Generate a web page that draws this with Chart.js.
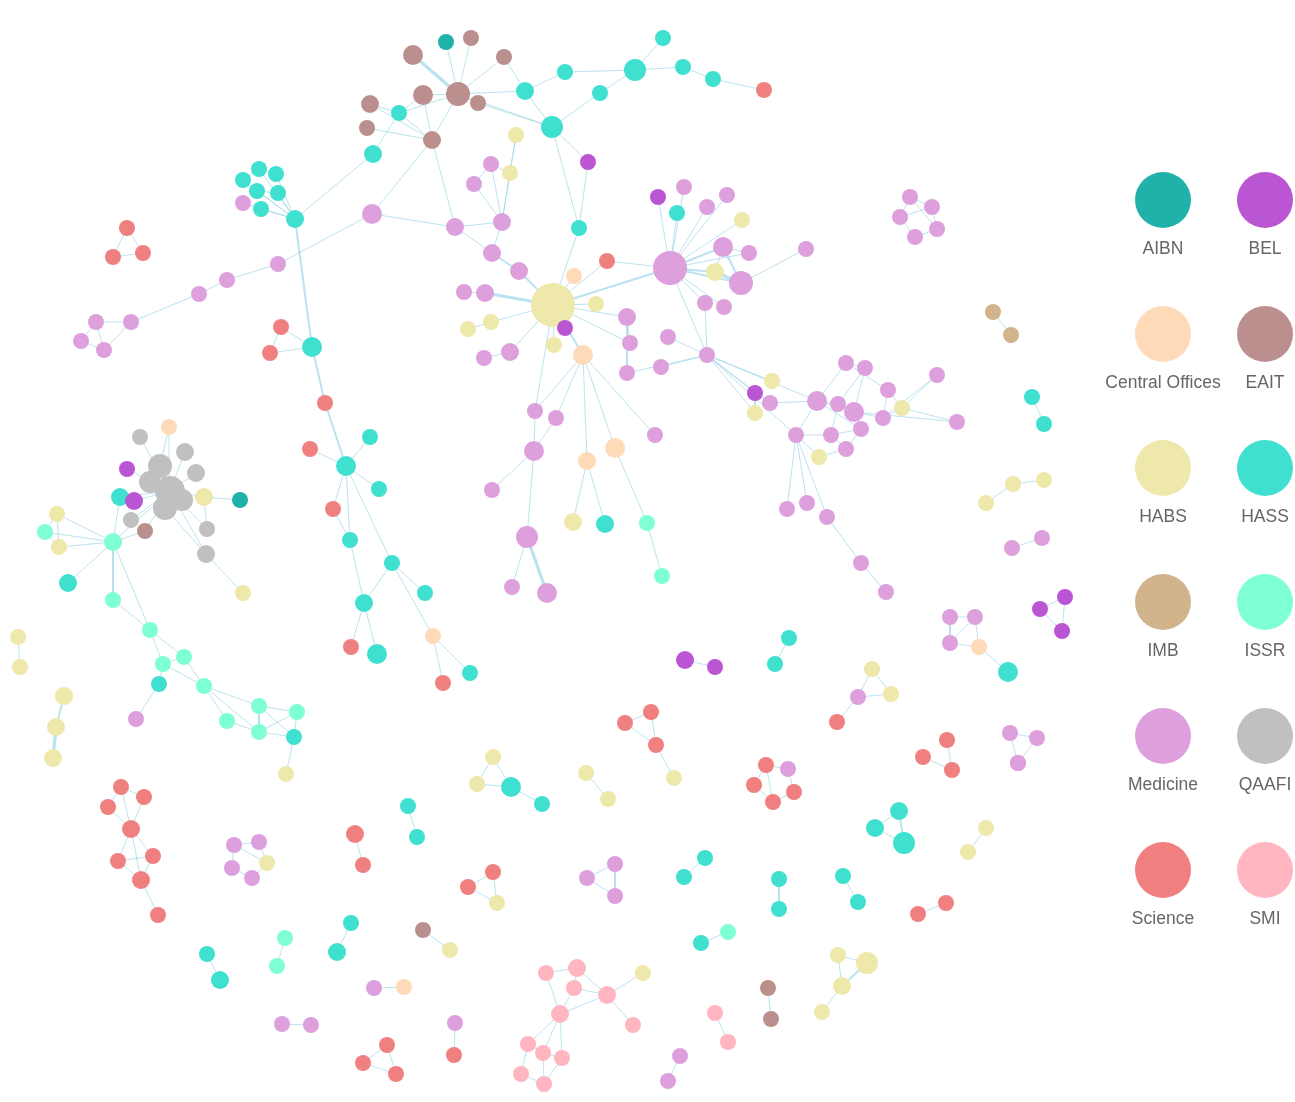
<!DOCTYPE html>
<html>
<head>
<meta charset="utf-8">
<title>Collaboration network</title>
<script src="https://cdn.jsdelivr.net/npm/chart.js@4.4.1/dist/chart.umd.min.js"></script>
<style>
  body { margin: 0; background: #fff; font-family: "Liberation Sans", Arial, sans-serif; }
  #wrap { position: relative; width: 1295px; height: 1102px; }
  #net { position: absolute; left: 0; top: 0; }
  .key-dot { position: absolute; width: 56px; height: 56px; border-radius: 50%; }
  .key-label { position: absolute; width: 140px; text-align: center; font-size: 17.5px; color: #666; }
</style>
</head>
<body>
<div id="wrap">
  <canvas id="net" width="1295" height="1102"></canvas>
  <div id="key"></div>
</div>
<script>
/* =========================================================
   DATA
========================================================= */
const groups = ["AIBN", "BEL", "Central Offices", "EAIT", "HABS", "HASS",
                "IMB", "ISSR", "Medicine", "QAAFI", "Science", "SMI"];

// node: [id, x, y, group, weight]
const nodes = [
  // top EAIT / HASS hub
  ["t1", 413, 55, "EAIT", 10], ["t2", 446, 42, "AIBN", 8], ["t3", 471, 38, "EAIT", 8],
  ["t4", 504, 57, "EAIT", 8], ["t5", 458, 94, "EAIT", 12], ["t6", 423, 95, "EAIT", 10],
  ["t7", 478, 103, "EAIT", 8], ["t8", 525, 91, "HASS", 9], ["t9", 552, 127, "HASS", 11],
  ["t10", 370, 104, "EAIT", 9], ["t11", 367, 128, "EAIT", 8], ["t12", 399, 113, "HASS", 8],
  ["t13", 432, 140, "EAIT", 9], ["t14", 373, 154, "HASS", 9], ["t15", 565, 72, "HASS", 8],
  ["t16", 635, 70, "HASS", 11], ["t17", 663, 38, "HASS", 8], ["t18", 683, 67, "HASS", 8],
  ["t19", 713, 79, "HASS", 8], ["t20", 764, 90, "Science", 8], ["t21", 600, 93, "HASS", 8],
  // HASS clump, upper left
  ["h1", 243, 180, "HASS", 8], ["h2", 259, 169, "HASS", 8], ["h3", 276, 174, "HASS", 8],
  ["h4", 257, 191, "HASS", 8], ["h5", 278, 193, "HASS", 8], ["h6", 261, 209, "HASS", 8],
  ["h7", 243, 203, "Medicine", 8], ["h8", 295, 219, "HASS", 9],
  // medicine chain to the left
  ["c1", 372, 214, "Medicine", 10], ["c2", 455, 227, "Medicine", 9], ["c3", 502, 222, "Medicine", 9],
  ["c4", 278, 264, "Medicine", 8], ["c5", 227, 280, "Medicine", 8], ["c6", 199, 294, "Medicine", 8],
  ["c7", 131, 322, "Medicine", 8], ["c8", 96, 322, "Medicine", 8], ["c9", 81, 341, "Medicine", 8],
  ["c10", 104, 350, "Medicine", 8],
  ["s1", 127, 228, "Science", 8], ["s2", 113, 257, "Science", 8], ["s3", 143, 253, "Science", 8],
  // around the big HABS node
  ["u1", 516, 135, "HABS", 8], ["u2", 491, 164, "Medicine", 8], ["u3", 510, 173, "HABS", 8],
  ["u4", 474, 184, "Medicine", 8], ["u5", 492, 253, "Medicine", 9], ["u6", 519, 271, "Medicine", 9],
  ["u7", 464, 292, "Medicine", 8], ["u8", 485, 293, "Medicine", 9], ["u9", 491, 322, "HABS", 8],
  ["u10", 468, 329, "HABS", 8], ["u11", 510, 352, "Medicine", 9], ["u12", 484, 358, "Medicine", 8],
  ["u13", 554, 345, "HABS", 8], ["u14", 565, 328, "BEL", 8],
  ["b0", 553, 305, "HABS", 22],
  ["r1", 588, 162, "BEL", 8], ["r2", 579, 228, "HASS", 8], ["r3", 574, 276, "Central Offices", 8],
  ["r4", 607, 261, "Science", 8], ["r5", 596, 304, "HABS", 8], ["r6", 627, 317, "Medicine", 9],
  ["r7", 583, 355, "Central Offices", 10], ["r8", 630, 343, "Medicine", 8], ["r9", 668, 337, "Medicine", 8],
  ["r10", 661, 367, "Medicine", 8], ["r11", 627, 373, "Medicine", 8], ["r12", 707, 355, "Medicine", 8],
  // medicine hub
  ["m0", 670, 268, "Medicine", 17],
  ["m1", 658, 197, "BEL", 8], ["m2", 684, 187, "Medicine", 8], ["m3", 677, 213, "HASS", 8],
  ["m4", 707, 207, "Medicine", 8], ["m5", 727, 195, "Medicine", 8], ["m6", 742, 220, "HABS", 8],
  ["m7", 723, 247, "Medicine", 10], ["m8", 749, 253, "Medicine", 8], ["m9", 806, 249, "Medicine", 8],
  ["m10", 715, 272, "HABS", 9], ["m11", 741, 283, "Medicine", 12], ["m12", 705, 303, "Medicine", 8],
  ["m13", 724, 307, "Medicine", 8],
  // below the star
  ["d1", 535, 411, "Medicine", 8], ["d2", 556, 418, "Medicine", 8], ["d3", 587, 461, "Central Offices", 9],
  ["d4", 615, 448, "Central Offices", 10], ["d5", 655, 435, "Medicine", 8], ["d6", 534, 451, "Medicine", 10],
  ["d7", 492, 490, "Medicine", 8], ["d8", 527, 537, "Medicine", 11], ["d9", 512, 587, "Medicine", 8],
  ["d10", 547, 593, "Medicine", 10], ["d11", 573, 522, "HABS", 9], ["d12", 605, 524, "HASS", 9],
  ["d13", 647, 523, "ISSR", 8], ["d14", 662, 576, "ISSR", 8],
  // right medicine cluster
  ["k1", 755, 393, "BEL", 8], ["k2", 772, 381, "HABS", 8], ["k3", 770, 403, "Medicine", 8],
  ["k4", 755, 413, "HABS", 8], ["k5", 817, 401, "Medicine", 10], ["k6", 796, 435, "Medicine", 8],
  ["k7", 819, 457, "HABS", 8], ["k8", 838, 404, "Medicine", 8], ["k9", 854, 412, "Medicine", 10],
  ["k10", 861, 429, "Medicine", 8], ["k11", 846, 449, "Medicine", 8], ["k12", 831, 435, "Medicine", 8],
  ["k13", 883, 418, "Medicine", 8], ["k14", 888, 390, "Medicine", 8], ["k15", 846, 363, "Medicine", 8],
  ["k16", 865, 368, "Medicine", 8], ["k17", 902, 408, "HABS", 8], ["k18", 937, 375, "Medicine", 8],
  ["k19", 957, 422, "Medicine", 8], ["k20", 787, 509, "Medicine", 8], ["k21", 807, 503, "Medicine", 8],
  ["k22", 827, 517, "Medicine", 8], ["k23", 861, 563, "Medicine", 8], ["k24", 886, 592, "Medicine", 8],
  // QAAFI clump, left
  ["q1", 169, 427, "Central Offices", 8], ["q2", 140, 437, "QAAFI", 8], ["q3", 185, 452, "QAAFI", 9],
  ["q4", 196, 473, "QAAFI", 9], ["q5", 127, 469, "BEL", 8], ["q6", 160, 466, "QAAFI", 12],
  ["q7", 150, 482, "QAAFI", 11], ["q8", 170, 491, "QAAFI", 15], ["q9", 165, 508, "QAAFI", 12],
  ["q10", 182, 500, "QAAFI", 11], ["q11", 120, 497, "HASS", 9], ["q12", 134, 501, "BEL", 9],
  ["q13", 204, 497, "HABS", 9], ["q14", 240, 500, "AIBN", 8], ["q15", 131, 520, "QAAFI", 8],
  ["q16", 145, 531, "EAIT", 8], ["q17", 207, 529, "QAAFI", 8], ["q18", 206, 554, "QAAFI", 9],
  ["q19", 243, 593, "HABS", 8],
  // ISSR chain
  ["i1", 57, 514, "HABS", 8], ["i2", 45, 532, "ISSR", 8], ["i3", 59, 547, "HABS", 8],
  ["i4", 113, 542, "ISSR", 9], ["i5", 68, 583, "HASS", 9], ["i6", 113, 600, "ISSR", 8],
  ["i7", 150, 630, "ISSR", 8], ["i8", 163, 664, "ISSR", 8], ["i9", 184, 657, "ISSR", 8],
  ["i10", 159, 684, "HASS", 8], ["i11", 204, 686, "ISSR", 8], ["i12", 136, 719, "Medicine", 8],
  ["i13", 259, 706, "ISSR", 8], ["i14", 227, 721, "ISSR", 8], ["i15", 259, 732, "ISSR", 8],
  ["i16", 297, 712, "ISSR", 8], ["i17", 294, 737, "HASS", 8], ["i18", 286, 774, "HABS", 8],
  // HASS / Science branch
  ["v1", 325, 403, "Science", 8], ["v2", 370, 437, "HASS", 8], ["v3", 310, 449, "Science", 8],
  ["v4", 346, 466, "HASS", 10], ["v5", 379, 489, "HASS", 8], ["v6", 333, 509, "Science", 8],
  ["v7", 350, 540, "HASS", 8], ["v8", 392, 563, "HASS", 8], ["v9", 425, 593, "HASS", 8],
  ["v10", 364, 603, "HASS", 9], ["v11", 433, 636, "Central Offices", 8], ["v12", 351, 647, "Science", 8],
  ["v13", 377, 654, "HASS", 10], ["v14", 443, 683, "Science", 8], ["v15", 470, 673, "HASS", 8],
  ["v16", 312, 347, "HASS", 10], ["v17", 281, 327, "Science", 8], ["v18", 270, 353, "Science", 8],
  // small components
  ["a1", 18, 637, "HABS", 8], ["a2", 20, 667, "HABS", 8],
  ["a3", 64, 696, "HABS", 9], ["a4", 56, 727, "HABS", 9], ["a5", 53, 758, "HABS", 9],
  ["a6", 993, 312, "IMB", 8], ["a7", 1011, 335, "IMB", 8],
  ["p1", 910, 197, "Medicine", 8], ["p2", 932, 207, "Medicine", 8], ["p3", 900, 217, "Medicine", 8],
  ["p4", 937, 229, "Medicine", 8], ["p5", 915, 237, "Medicine", 8],
  ["a8", 1032, 397, "HASS", 8], ["a9", 1044, 424, "HASS", 8],
  ["a10", 1013, 484, "HABS", 8], ["a11", 1044, 480, "HABS", 8], ["a12", 986, 503, "HABS", 8],
  ["a13", 1012, 548, "Medicine", 8], ["a14", 1042, 538, "Medicine", 8],
  ["a15", 1065, 597, "BEL", 8], ["a16", 1040, 609, "BEL", 8], ["a17", 1062, 631, "BEL", 8],
  ["a18", 950, 617, "Medicine", 8], ["a19", 975, 617, "Medicine", 8], ["a20", 950, 643, "Medicine", 8],
  ["a21", 979, 647, "Central Offices", 8], ["a22", 1008, 672, "HASS", 10],
  ["a23", 789, 638, "HASS", 8], ["a24", 775, 664, "HASS", 8],
  ["a25", 685, 660, "BEL", 9], ["a26", 715, 667, "BEL", 8],
  ["a27", 872, 669, "HABS", 8], ["a28", 858, 697, "Medicine", 8], ["a29", 891, 694, "HABS", 8],
  ["a30", 837, 722, "Science", 8],
  ["a31", 1010, 733, "Medicine", 8], ["a32", 1037, 738, "Medicine", 8], ["a33", 1018, 763, "Medicine", 8],
  ["a34", 947, 740, "Science", 8], ["a35", 923, 757, "Science", 8], ["a36", 952, 770, "Science", 8],
  ["a37", 651, 712, "Science", 8], ["a38", 625, 723, "Science", 8], ["a39", 656, 745, "Science", 8],
  ["a40", 674, 778, "HABS", 8],
  ["a41", 899, 811, "HASS", 9], ["a42", 875, 828, "HASS", 9], ["a43", 904, 843, "HASS", 11],
  ["a44", 986, 828, "HABS", 8], ["a45", 968, 852, "HABS", 8],
  ["a46", 843, 876, "HASS", 8], ["a47", 858, 902, "HASS", 8],
  ["a48", 946, 903, "Science", 8], ["a49", 918, 914, "Science", 8],
  ["a50", 838, 955, "HABS", 8], ["a51", 867, 963, "HABS", 11], ["a52", 842, 986, "HABS", 9],
  ["a53", 822, 1012, "HABS", 8],
  ["a54", 493, 757, "HABS", 8], ["a55", 477, 784, "HABS", 8], ["a56", 511, 787, "HASS", 10],
  ["a57", 542, 804, "HASS", 8],
  ["a58", 586, 773, "HABS", 8], ["a59", 608, 799, "HABS", 8],
  ["a60", 766, 765, "Science", 8], ["a61", 788, 769, "Medicine", 8], ["a62", 754, 785, "Science", 8],
  ["a63", 794, 792, "Science", 8], ["a64", 773, 802, "Science", 8],
  ["a65", 408, 806, "HASS", 8], ["a66", 417, 837, "HASS", 8],
  ["a67", 355, 834, "Science", 9], ["a68", 363, 865, "Science", 8],
  ["a69", 493, 872, "Science", 8], ["a70", 468, 887, "Science", 8], ["a71", 497, 903, "HABS", 8],
  ["a72", 615, 864, "Medicine", 8], ["a73", 587, 878, "Medicine", 8], ["a74", 615, 896, "Medicine", 8],
  ["a75", 705, 858, "HASS", 8], ["a76", 684, 877, "HASS", 8],
  ["a77", 779, 879, "HASS", 8], ["a78", 779, 909, "HASS", 8],
  ["a79", 728, 932, "ISSR", 8], ["a80", 701, 943, "HASS", 8],
  ["a81", 351, 923, "HASS", 8], ["a82", 337, 952, "HASS", 9],
  ["a83", 285, 938, "ISSR", 8], ["a84", 277, 966, "ISSR", 8],
  ["a85", 423, 930, "EAIT", 8], ["a86", 450, 950, "HABS", 8],
  ["a87", 374, 988, "Medicine", 8], ["a88", 404, 987, "Central Offices", 8],
  ["a89", 282, 1024, "Medicine", 8], ["a90", 311, 1025, "Medicine", 8],
  ["a91", 455, 1023, "Medicine", 8], ["a92", 454, 1055, "Science", 8],
  ["a93", 387, 1045, "Science", 8], ["a94", 363, 1063, "Science", 8], ["a95", 396, 1074, "Science", 8],
  ["a96", 715, 1013, "SMI", 8], ["a97", 728, 1042, "SMI", 8],
  ["a98", 768, 988, "EAIT", 8], ["a99", 771, 1019, "EAIT", 8],
  ["b1", 680, 1056, "Medicine", 8], ["b2", 668, 1081, "Medicine", 8],
  ["b3", 234, 845, "Medicine", 8], ["b4", 259, 842, "Medicine", 8], ["b5", 267, 863, "HABS", 8],
  ["b6", 232, 868, "Medicine", 8], ["b7", 252, 878, "Medicine", 8],
  ["b8", 121, 787, "Science", 8], ["b9", 144, 797, "Science", 8], ["b10", 108, 807, "Science", 8],
  ["b11", 131, 829, "Science", 9], ["b12", 118, 861, "Science", 8], ["b13", 153, 856, "Science", 8],
  ["b14", 141, 880, "Science", 9], ["b15", 158, 915, "Science", 8],
  ["b16", 207, 954, "HASS", 8], ["b17", 220, 980, "HASS", 9],
  ["b18", 1018, 763, "Medicine", 8],
  // SMI cluster
  ["g1", 546, 973, "SMI", 8], ["g2", 577, 968, "SMI", 9], ["g3", 574, 988, "SMI", 8],
  ["g4", 607, 995, "SMI", 9], ["g5", 560, 1014, "SMI", 9], ["g6", 643, 973, "HABS", 8],
  ["g7", 633, 1025, "SMI", 8], ["g8", 528, 1044, "SMI", 8], ["g9", 543, 1053, "SMI", 8],
  ["g10", 562, 1058, "SMI", 8], ["g11", 521, 1074, "SMI", 8], ["g12", 544, 1084, "SMI", 8]
];

// link: [source, target, weight]
const links = [
  ["t1", "t5", 3], ["t2", "t5", 1], ["t3", "t5", 1], ["t4", "t5", 1], ["t6", "t5", 1], ["t7", "t5", 1],
  ["t8", "t5", 1], ["t9", "t5", 1], ["t13", "t5", 1], ["t12", "t5", 1], ["t10", "t13", 1], ["t11", "t13", 1],
  ["t12", "t13", 1], ["t10", "t12", 1], ["t4", "t8", 1], ["t8", "t9", 1], ["t8", "t15", 1], ["t15", "t16", 1],
  ["t16", "t17", 1], ["t16", "t18", 1], ["t18", "t19", 1], ["t19", "t20", 1], ["t21", "t16", 1], ["t21", "t9", 1],
  ["t14", "t12", 1], ["t12", "t6", 1], ["t7", "t9", 1], ["t6", "t13", 1],
  ["h1", "h8", 1], ["h2", "h8", 1], ["h3", "h8", 1], ["h4", "h8", 1], ["h5", "h8", 1], ["h6", "h8", 1],
  ["h7", "h8", 1], ["h1", "h2", 1], ["h4", "h5", 1], ["h8", "t14", 1], ["h8", "v16", 2],
  ["t13", "c1", 1], ["t13", "c2", 1], ["c1", "c2", 1], ["c2", "c3", 1], ["c1", "c4", 1], ["c4", "c5", 1],
  ["c5", "c6", 1], ["c6", "c7", 1], ["c7", "c8", 1], ["c7", "c10", 1], ["c8", "c9", 1], ["c9", "c10", 1],
  ["c8", "c10", 1],
  ["s1", "s2", 1], ["s1", "s3", 1], ["s2", "s3", 1],
  ["c3", "u1", 1], ["c3", "u2", 1], ["c3", "u3", 1], ["c3", "u4", 1], ["u2", "u3", 1], ["u1", "u3", 1],
  ["u2", "u4", 1], ["c3", "u5", 1], ["c2", "u5", 1], ["u5", "u6", 2], ["u6", "b0", 2], ["u8", "b0", 3],
  ["u7", "u8", 1], ["u9", "b0", 1], ["u10", "u9", 1], ["u11", "b0", 1], ["u12", "u11", 1], ["u13", "b0", 1],
  ["u14", "b0", 1],
  ["t9", "r2", 1], ["t9", "r1", 1], ["r1", "r2", 1], ["r2", "b0", 1], ["r3", "b0", 1], ["r4", "b0", 1],
  ["r5", "b0", 1], ["r6", "b0", 1], ["r7", "b0", 2], ["r8", "b0", 1], ["m0", "b0", 2], ["m0", "r4", 1],
  ["m0", "m1", 1], ["m0", "m2", 1], ["m0", "m3", 1], ["m0", "m4", 1], ["m0", "m5", 1], ["m0", "m6", 1],
  ["m0", "m7", 2], ["m0", "m8", 1], ["m0", "m10", 2], ["m0", "m11", 2], ["m0", "m12", 1], ["m0", "m13", 1],
  ["m7", "m10", 1], ["m7", "m11", 2], ["m10", "m11", 3], ["m11", "m9", 1], ["m7", "m8", 1],
  ["m12", "r12", 1], ["m0", "r12", 1], ["r12", "r9", 1], ["r12", "r10", 1], ["r12", "r11", 1], ["r6", "r8", 1],
  ["r6", "r11", 1],
  ["r7", "d1", 1], ["r7", "d2", 1], ["r7", "d3", 1], ["r7", "d4", 1], ["r7", "d5", 1], ["b0", "d1", 1],
  ["d1", "d6", 1], ["d2", "d6", 1], ["d6", "d7", 1], ["d6", "d8", 1], ["d8", "d9", 1], ["d8", "d10", 3],
  ["d3", "d11", 1], ["d3", "d12", 1], ["d4", "d13", 1], ["d13", "d14", 1],
  ["r12", "k1", 1], ["r12", "k2", 1], ["r12", "k3", 1], ["r12", "k4", 1], ["r12", "k5", 1], ["r12", "k6", 1],
  ["k5", "k8", 1], ["k5", "k9", 1], ["k5", "k6", 1], ["k6", "k12", 1], ["k6", "k7", 1], ["k8", "k9", 1],
  ["k9", "k10", 1], ["k10", "k11", 1], ["k11", "k12", 1], ["k12", "k8", 1], ["k9", "k13", 1], ["k13", "k14", 1],
  ["k14", "k15", 1], ["k15", "k16", 1], ["k16", "k9", 1], ["k14", "k17", 1], ["k17", "k19", 1], ["k13", "k17", 1],
  ["k17", "k18", 1], ["k15", "k5", 1], ["k16", "k8", 1], ["k6", "k20", 1], ["k6", "k21", 1], ["k6", "k22", 1],
  ["k22", "k23", 1], ["k23", "k24", 1], ["k11", "k7", 1], ["k3", "k5", 1], ["k1", "k4", 1], ["k12", "k10", 1],
  ["k5", "k10", 1], ["k13", "k18", 1], ["k9", "k19", 1],
  ["q8", "q1", 1], ["q8", "q2", 1], ["q8", "q3", 1], ["q8", "q4", 1], ["q8", "q5", 1], ["q8", "q6", 2],
  ["q8", "q7", 2], ["q8", "q9", 2], ["q8", "q10", 1], ["q8", "q11", 1], ["q8", "q12", 1], ["q8", "q13", 1],
  ["q8", "q15", 1], ["q8", "q16", 1], ["q8", "q17", 1], ["q8", "q18", 1], ["q13", "q14", 1], ["q13", "q17", 1],
  ["q18", "q19", 1], ["q6", "q1", 1], ["q9", "q18", 1],
  ["i4", "i1", 1], ["i4", "i2", 1], ["i4", "i3", 1], ["i1", "i2", 1], ["i2", "i3", 1], ["i1", "i3", 1],
  ["i4", "i5", 1], ["i4", "i6", 1], ["i4", "i7", 1], ["i4", "q8", 1], ["i4", "q11", 1], ["i4", "q16", 1],
  ["i6", "i7", 1], ["i7", "i8", 1], ["i7", "i9", 1], ["i8", "i9", 1], ["i8", "i10", 1], ["i9", "i11", 1],
  ["i8", "i11", 1], ["i10", "i12", 1], ["i11", "i13", 1], ["i11", "i14", 1], ["i11", "i15", 1], ["i13", "i15", 1],
  ["i14", "i15", 1], ["i13", "i16", 1], ["i15", "i17", 1], ["i16", "i17", 1], ["i13", "i17", 1], ["i17", "i18", 1],
  ["i15", "i16", 1],
  ["v16", "v17", 1], ["v16", "v18", 1], ["v17", "v18", 1], ["v16", "v1", 2], ["v1", "v4", 2], ["v2", "v4", 1],
  ["v3", "v4", 1], ["v4", "v5", 1], ["v4", "v6", 1], ["v4", "v7", 1], ["v4", "v8", 1], ["v6", "v7", 1],
  ["v7", "v10", 1], ["v8", "v10", 1], ["v8", "v9", 1], ["v8", "v11", 1], ["v10", "v12", 1], ["v10", "v13", 1],
  ["v11", "v14", 1], ["v11", "v15", 1],
  ["a1", "a2", 1], ["a3", "a4", 2], ["a4", "a5", 3], ["a6", "a7", 1],
  ["p1", "p2", 1], ["p2", "p4", 1], ["p4", "p5", 1], ["p5", "p3", 1], ["p3", "p1", 1], ["p1", "p4", 1],
  ["p3", "p2", 1],
  ["a8", "a9", 1], ["a10", "a11", 1], ["a10", "a12", 1], ["a13", "a14", 1],
  ["a15", "a16", 1], ["a16", "a17", 1], ["a15", "a17", 1],
  ["a18", "a19", 1], ["a18", "a20", 1], ["a19", "a21", 1], ["a20", "a21", 1], ["a19", "a20", 1], ["a21", "a22", 1],
  ["a23", "a24", 1], ["a25", "a26", 1],
  ["a27", "a28", 1], ["a27", "a29", 1], ["a28", "a29", 1], ["a28", "a30", 1],
  ["a31", "a32", 1], ["a31", "b18", 1], ["a32", "b18", 1],
  ["a34", "a36", 1], ["a35", "a36", 1],
  ["a37", "a38", 1], ["a37", "a39", 1], ["a38", "a39", 1], ["a39", "a40", 1],
  ["a41", "a42", 1], ["a42", "a43", 1], ["a41", "a43", 2],
  ["a44", "a45", 1], ["a46", "a47", 1], ["a48", "a49", 1],
  ["a50", "a51", 1], ["a50", "a52", 1], ["a51", "a52", 2], ["a52", "a53", 1],
  ["a54", "a55", 1], ["a54", "a56", 1], ["a55", "a56", 1], ["a56", "a57", 1],
  ["a58", "a59", 1],
  ["a60", "a61", 1], ["a60", "a62", 1], ["a61", "a63", 1], ["a62", "a64", 1], ["a63", "a64", 1], ["a60", "a64", 1],
  ["a65", "a66", 1], ["a67", "a68", 1],
  ["a69", "a70", 1], ["a70", "a71", 1], ["a69", "a71", 1],
  ["a72", "a73", 1], ["a73", "a74", 1], ["a72", "a74", 1],
  ["a75", "a76", 1], ["a77", "a78", 1], ["a79", "a80", 1], ["a81", "a82", 1], ["a83", "a84", 1],
  ["a85", "a86", 1], ["a87", "a88", 1], ["a89", "a90", 1], ["a91", "a92", 1],
  ["a93", "a94", 1], ["a94", "a95", 1], ["a93", "a95", 1],
  ["a96", "a97", 1], ["a98", "a99", 1], ["b1", "b2", 1],
  ["b3", "b4", 1], ["b4", "b5", 1], ["b5", "b7", 1], ["b7", "b6", 1], ["b6", "b3", 1], ["b3", "b5", 1],
  ["b8", "b11", 1], ["b9", "b11", 1], ["b10", "b11", 1], ["b8", "b10", 1], ["b8", "b9", 1], ["b11", "b12", 1],
  ["b11", "b13", 1], ["b11", "b14", 1], ["b12", "b13", 1], ["b12", "b14", 1], ["b13", "b14", 1], ["b14", "b15", 1],
  ["b16", "b17", 1],
  ["g1", "g5", 1], ["g2", "g3", 1], ["g2", "g1", 1], ["g3", "g4", 1], ["g2", "g4", 1], ["g3", "g5", 1],
  ["g4", "g6", 1], ["g4", "g7", 1], ["g5", "g8", 1], ["g5", "g9", 1], ["g5", "g10", 1], ["g4", "g5", 1],
  ["g8", "g9", 1], ["g9", "g10", 1], ["g8", "g11", 1], ["g11", "g12", 1], ["g9", "g12", 1], ["g10", "g12", 1]
];

/* =========================================================
   STYLE
========================================================= */
const groupColors = {
  "AIBN": "#20B2AA", "BEL": "#BA55D3", "Central Offices": "#FFDAB9", "EAIT": "#BC8F8F",
  "HABS": "#EEE8AA", "HASS": "#40E0D0", "IMB": "#D2B48C", "ISSR": "#7FFFD4",
  "Medicine": "#DDA0DD", "QAAFI": "#C0C0C0", "Science": "#F08080", "SMI": "#FFB6C1"
};
const linkColor = "rgba(150, 212, 230, 0.65)";

/* =========================================================
   BUILD DATASETS
========================================================= */
const byId = {};
nodes.forEach(n => { byId[n[0]] = n; });

function linkPoints(test) {
  const pts = [];
  links.filter(test).forEach(l => {
    const a = byId[l[0]], b = byId[l[1]];
    if (!a || !b) return;
    pts.push({ x: a[1], y: a[2] }, { x: b[1], y: b[2] }, { x: null, y: null });
  });
  return pts;
}

const linkSets = [[1, 1], [2, 2], [3, 3.2]].map(([w, bw]) => ({
  type: "line",
  label: "links " + w,
  data: linkPoints(l => l[2] === w),
  borderColor: linkColor,
  borderWidth: bw,
  pointRadius: 0,
  pointHitRadius: 0,
  spanGaps: false,
  tension: 0,
  fill: false,
  clip: false,
  order: 10
}));

const nodeSets = groups.map(g => ({
  type: "bubble",
  label: g,
  data: nodes.filter(n => n[3] === g).map(n => ({ x: n[1], y: n[2], r: n[4] })),
  backgroundColor: groupColors[g],
  borderWidth: 0,
  hoverBorderWidth: 0,
  clip: false,
  order: 1
}));

new Chart(document.getElementById("net"), {
  type: "bubble",
  data: { datasets: nodeSets.concat(linkSets) },
  options: {
    responsive: false,
    animation: false,
    events: [],
    layout: { padding: 0, autoPadding: false },
    plugins: { legend: { display: false }, tooltip: { enabled: false } },
    scales: {
      x: { type: "linear", min: 0, max: 1295, display: false },
      y: { type: "linear", min: 0, max: 1102, reverse: true, display: false }
    }
  }
});

/* =========================================================
   KEY (two columns, label under each dot)
========================================================= */
const key = document.getElementById("key");
groups.forEach((g, i) => {
  const cx = 1163 + (i % 2) * 102;
  const cy = 200 + Math.floor(i / 2) * 134;
  const dot = document.createElement("div");
  dot.className = "key-dot";
  dot.style.left = (cx - 28) + "px";
  dot.style.top = (cy - 28) + "px";
  dot.style.background = groupColors[g];
  const lab = document.createElement("div");
  lab.className = "key-label";
  lab.style.left = (cx - 70) + "px";
  lab.style.top = (cy + 38) + "px";
  lab.textContent = g;
  key.appendChild(dot);
  key.appendChild(lab);
});
</script>
</body>
</html>
